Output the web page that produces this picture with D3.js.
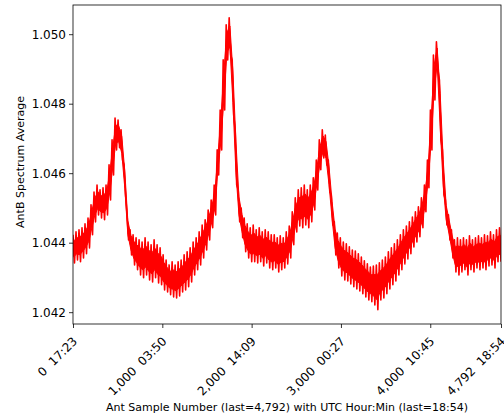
<!DOCTYPE html>
<html><head><meta charset="utf-8">
<script src="https://cdn.jsdelivr.net/npm/d3@7/dist/d3.min.js"></script>
<style>
html,body{margin:0;padding:0;background:#fff;}
svg{display:block;font-family:"DejaVu Sans",sans-serif;}
</style></head>
<body><svg id="chart" width="504" height="419"></svg>
<script>
// ---- data ----
const lastSample = 4792;
const xTickSamples = [0, 1000, 2000, 3000, 4000, 4792];
const xTickTimes = ["17:23", "03:50", "14:09", "00:27", "10:45", "18:54"];
const yTicks = [1.042, 1.044, 1.046, 1.048, 1.050];
const yLabel = "AntB Spectrum Average";
const xLabel = "Ant Sample Number (last=4,792) with UTC Hour:Min (last=18:54)";

// upper and lower edge of the noisy trace, one pair per column, evenly spread over samples 0..4792
const bandHigh = [
1.04423,1.04431,1.04437,1.04443,1.04454,1.04471,1.04509,1.04546,1.04566,1.04552,
1.04558,1.04566,1.04624,1.04696,1.04759,1.04753,1.04725,1.04624,1.04480,1.04437,
1.04423,1.04414,1.04408,1.04402,1.04414,1.04402,1.04394,1.04408,1.04394,1.04385,
1.04365,1.04350,1.04336,1.04345,1.04336,1.04345,1.04350,1.04365,1.04374,1.04385,
1.04402,1.04414,1.04431,1.04451,1.04466,1.04494,1.04523,1.04566,1.04667,1.04782,
1.04926,1.05027,1.05047,1.04926,1.04725,1.04552,1.04500,1.04471,1.04454,1.04443,
1.04451,1.04437,1.04443,1.04431,1.04437,1.04431,1.04423,1.04423,1.04414,1.04420,
1.04414,1.04431,1.04448,1.04489,1.04529,1.04552,1.04558,1.04566,1.04552,1.04566,
1.04587,1.04638,1.04696,1.04725,1.04710,1.04638,1.04538,1.04460,1.04428,1.04414,
1.04402,1.04397,1.04388,1.04379,1.04376,1.04368,1.04359,1.04348,1.04339,1.04330,
1.04333,1.04336,1.04342,1.04350,1.04359,1.04374,1.04385,1.04397,1.04408,1.04423,
1.04437,1.04448,1.04460,1.04474,1.04489,1.04503,1.04529,1.04566,1.04638,1.04782,
1.04940,1.04978,1.04868,1.04667,1.04523,1.04480,1.04437,1.04408,1.04414,1.04408,
1.04414,1.04408,1.04420,1.04408,1.04414,1.04420,1.04414,1.04423,1.04420,1.04431,
1.04423,1.04437,1.04443];
const bandLow = [
1.04342,1.04350,1.04345,1.04356,1.04368,1.04385,1.04423,1.04460,1.04480,1.04471,
1.04466,1.04480,1.04523,1.04595,1.04667,1.04673,1.04638,1.04538,1.04408,1.04365,
1.04336,1.04322,1.04307,1.04299,1.04307,1.04293,1.04287,1.04299,1.04284,1.04279,
1.04264,1.04258,1.04250,1.04244,1.04241,1.04247,1.04258,1.04264,1.04273,1.04287,
1.04307,1.04322,1.04336,1.04356,1.04379,1.04408,1.04443,1.04480,1.04595,1.04667,
1.04782,1.04926,1.04940,1.04768,1.04566,1.04460,1.04414,1.04374,1.04356,1.04345,
1.04345,1.04342,1.04345,1.04333,1.04342,1.04327,1.04322,1.04327,1.04316,1.04322,
1.04327,1.04339,1.04356,1.04394,1.04431,1.04448,1.04443,1.04451,1.04443,1.04460,
1.04494,1.04552,1.04610,1.04644,1.04624,1.04546,1.04451,1.04365,1.04327,1.04304,
1.04293,1.04290,1.04281,1.04273,1.04267,1.04261,1.04253,1.04244,1.04235,1.04230,
1.04221,1.04207,1.04235,1.04241,1.04253,1.04267,1.04279,1.04290,1.04307,1.04322,
1.04339,1.04353,1.04368,1.04388,1.04402,1.04417,1.04443,1.04489,1.04558,1.04667,
1.04811,1.04897,1.04696,1.04538,1.04451,1.04408,1.04356,1.04316,1.04307,1.04316,
1.04322,1.04307,1.04322,1.04316,1.04327,1.04322,1.04327,1.04322,1.04333,1.04336,
1.04327,1.04345,1.04345];

// ---- layout ----
const svg = d3.select("#chart");
const m = {left: 73, right: 3, top: 5, bottom: 95};
const W = 504, H = 419;
const pw = W - m.left - m.right, ph = H - m.top - m.bottom;

const x = d3.scaleLinear().domain([0, lastSample]).range([m.left, m.left + pw]);
const y = d3.scaleLinear().domain([1.04166, 1.05084]).range([m.top + ph, m.top]);

const N = bandHigh.length;
const nPts = 2 * N;

// dense core of the noisy band (inner part between the read edges)
const core = bandHigh.map((h, k) => {
  const lo = bandLow[k], span = h - lo;
  return {s: (2 * k + 0.5) * lastSample / (nPts - 1), hi: h - 0.22 * span, lo: lo + 0.22 * span};
});

// zig-zag trace reaching the read edges
const pts = [];
for (let k = 0; k < N; k++) {
  pts.push({s: (2 * k) * lastSample / (nPts - 1), v: bandHigh[k]});
  pts.push({s: (2 * k + 1) * lastSample / (nPts - 1), v: bandLow[k]});
}

svg.append("defs").append("clipPath").attr("id", "clip")
  .append("rect").attr("x", m.left).attr("y", m.top).attr("width", pw).attr("height", ph);

const g = svg.append("g").attr("clip-path", "url(#clip)");
g.append("path")
  .datum(core)
  .attr("fill", "#ff0000")
  .attr("stroke", "#ff0000")
  .attr("stroke-width", 1)
  .attr("d", d3.area().x(d => x(d.s)).y0(d => y(d.lo)).y1(d => y(d.hi)));
g.append("path")
  .datum(pts)
  .attr("fill", "none")
  .attr("stroke", "#ff0000")
  .attr("stroke-width", 1.6)
  .attr("stroke-linejoin", "round")
  .attr("d", d3.line().x(d => x(d.s)).y(d => y(d.v)));

// axes
const yAxis = svg.append("g").attr("transform", `translate(${m.left},0)`)
  .call(d3.axisLeft(y).tickValues(yTicks).tickFormat(d3.format(".3f")).tickSizeOuter(0).tickSize(4).tickPadding(3));
yAxis.select(".domain").remove();
yAxis.selectAll("line").attr("stroke", "#000").attr("stroke-width", 0.8);
yAxis.selectAll("text").attr("font-size", 12).attr("fill", "#000").attr("font-family", "DejaVu Sans");

const xAxis = svg.append("g").attr("transform", `translate(0,${m.top + ph})`)
  .call(d3.axisBottom(x).tickValues(xTickSamples).tickSizeOuter(0).tickSize(4).tickFormat(() => ""));
xAxis.select(".domain").remove();
xAxis.selectAll("line").attr("stroke", "#000").attr("stroke-width", 0.8);

const fmt = d3.format(",");
svg.append("g").selectAll("text").data(xTickSamples).join("text")
  .attr("transform", d => `translate(${x(d) + 5},${m.top + ph + 18}) rotate(-45)`)
  .attr("text-anchor", "end")
  .attr("font-size", 12)
  .attr("fill", "#000")
  .attr("xml:space", "preserve")
  .style("white-space", "pre")
  .text((d, i) => fmt(d) + "  " + xTickTimes[i]);

// frame
svg.append("rect").attr("x", m.left).attr("y", m.top).attr("width", pw).attr("height", ph)
  .attr("fill", "none").attr("stroke", "#000").attr("stroke-width", 0.8);

// labels
svg.append("text").attr("transform", `translate(24,162) rotate(-90)`)
  .attr("text-anchor", "middle").attr("font-size", 11).attr("fill", "#000").text(yLabel);
svg.append("text").attr("x", m.left + pw / 2).attr("y", 411)
  .attr("text-anchor", "middle").attr("font-size", 11).attr("fill", "#000").text(xLabel);
</script></body></html>
